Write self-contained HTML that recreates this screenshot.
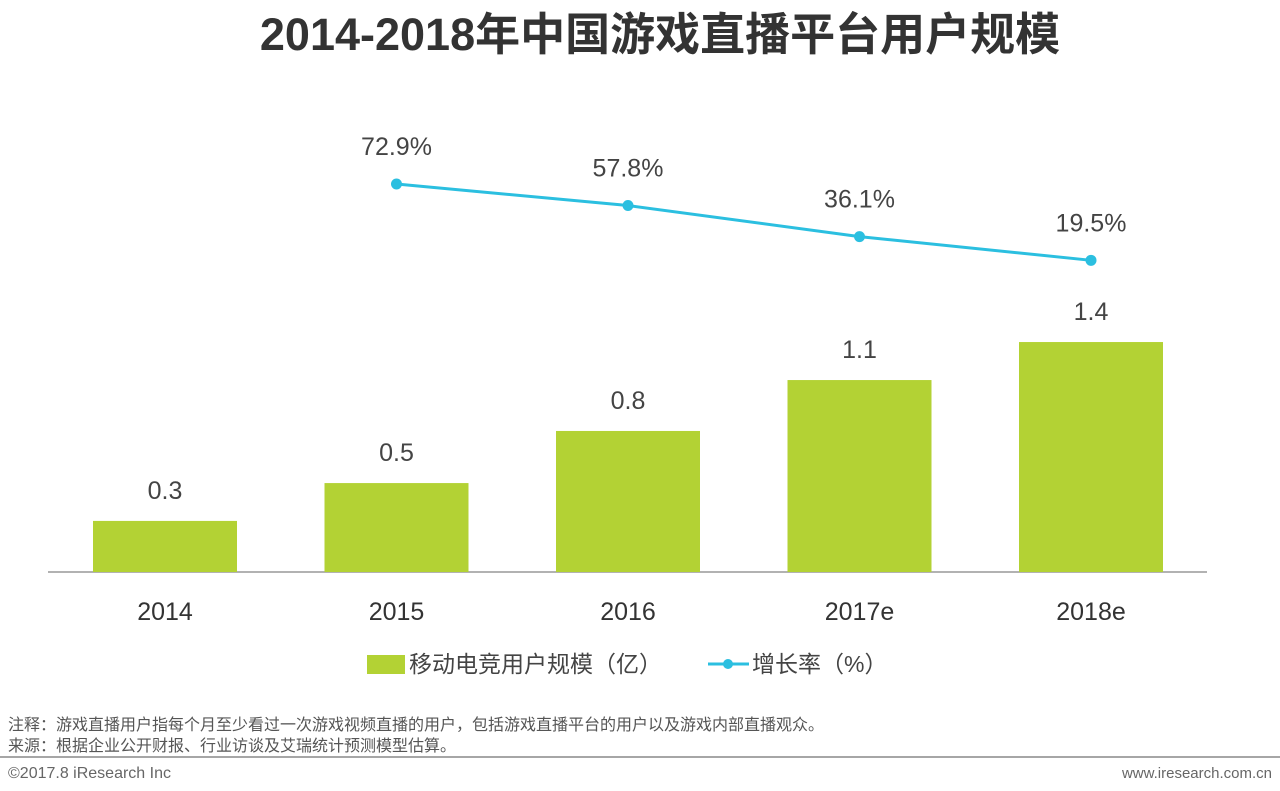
<!DOCTYPE html>
<html><head><meta charset="utf-8"><style>
body{margin:0;width:1280px;height:786px;background:#fff;overflow:hidden;font-family:"Liberation Sans","Noto Sans CJK SC",sans-serif;}
svg text{font-family:"Liberation Sans","Noto Sans CJK SC",sans-serif;}
</style></head><body>
<svg id="c" width="1280" height="786">
<text x="660" y="50" text-anchor="middle" font-size="45" font-weight="bold" fill="#333">2014-2018年中国游戏直播平台用户规模</text>
<line x1="48" y1="572" x2="1207" y2="572" stroke="#999" stroke-width="1.5"/>
<g id="bars"></g><g id="line"></g><g id="xl"></g>
<g>
<rect x="367" y="655" width="38" height="19" fill="#b3d234"/>
<text x="409" y="672" font-size="23" fill="#444">移动电竞用户规模（亿）</text>
<line x1="708" y1="664" x2="749" y2="664" stroke="#2bbfe0" stroke-width="3"/>
<circle cx="728" cy="664" r="5" fill="#2bbfe0"/>
<text x="752" y="672" font-size="23" fill="#444">增长率（%）</text>
</g>
<text x="8" y="730" font-size="16" fill="#555">注释：游戏直播用户指每个月至少看过一次游戏视频直播的用户，包括游戏直播平台的用户以及游戏内部直播观众。</text>
<text x="8" y="751" font-size="16" fill="#555">来源：根据企业公开财报、行业访谈及艾瑞统计预测模型估算。</text>
<line x1="0" y1="757" x2="1280" y2="757" stroke="#888" stroke-width="1.5"/>
<text x="8" y="778" font-size="16" fill="#666">©2017.8 iResearch Inc</text>
<text x="1272" y="778" font-size="15" fill="#666" text-anchor="end">www.iresearch.com.cn</text>
</svg>
<script>
const categories=["2014","2015","2016","2017e","2018e"];
const users=[0.297,0.517,0.82,1.116,1.337];
const userLabels=["0.3","0.5","0.8","1.1","1.4"];
const growth=[null,72.9,57.8,36.1,19.5];
const NS="http://www.w3.org/2000/svg";
const xc=i=>165+i*231.5;
const yBar=v=>572-v*172;
const yLine=v=>288.2-v*1.43;
function mk(t,a,p){const e=document.createElementNS(NS,t);for(const k in a)e.setAttribute(k,a[k]);p.appendChild(e);return e;}
const bars=document.getElementById('bars'),line=document.getElementById('line'),xl=document.getElementById('xl');
categories.forEach((c,i)=>{
 const r=mk('rect',{x:xc(i)-72,y:yBar(users[i]),width:144,height:572-yBar(users[i]),fill:'#b3d234'},bars);
 
 
 const t=mk('text',{x:xc(i),y:yBar(users[i])-22,'text-anchor':'middle','font-size':25,fill:'#444'},bars);t.textContent=userLabels[i];
 
 
 const x=mk('text',{x:xc(i),y:620,'text-anchor':'middle','font-size':25,fill:'#333'},xl);x.textContent=c;
 
 
});
const pts=growth.map((v,i)=>v==null?null:[xc(i),yLine(v)]).filter(p=>p);
const pl=mk('polyline',{points:pts.map(p=>p.join(',')).join(' '),fill:'none',stroke:'#2bbfe0','stroke-width':3},line);


growth.forEach((v,i)=>{if(v==null)return;
 const d=mk('circle',{cx:xc(i),cy:yLine(v),r:5.5,fill:'#2bbfe0'},line);
 
 
 const t=mk('text',{x:xc(i),y:yLine(v)-29,'text-anchor':'middle','font-size':25,fill:'#444'},line);t.textContent=v.toFixed(1)+'%';
 
 
});
</script>
</body></html>
